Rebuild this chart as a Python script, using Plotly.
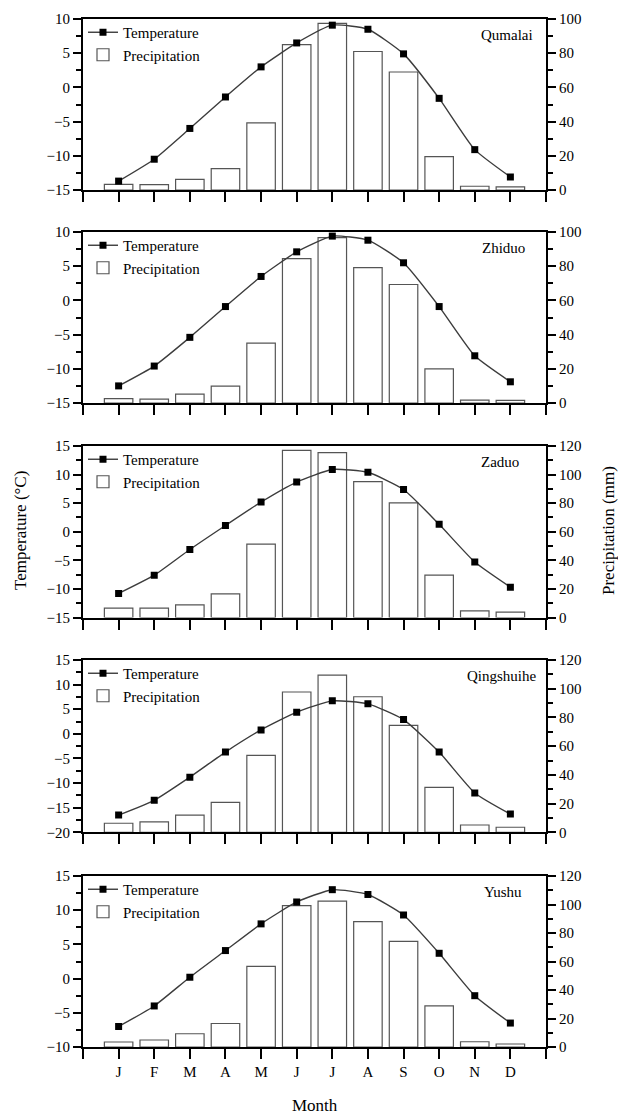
import plotly.graph_objects as go

# ---------------- data ----------------
months = ["J", "F", "M", "A", "M", "J", "J", "A", "S", "O", "N", "D"]
stations = ["Qumalai", "Zhiduo", "Zaduo", "Qingshuihe", "Yushu"]

temp_qumalai = [-13.7, -10.5, -6.0, -1.4, 3.0, 6.5, 9.1, 8.5, 4.9, -1.6, -9.1, -13.1]
precip_qumalai = [3.3, 3.2, 6.2, 12.5, 39.2, 85.0, 97.5, 81.0, 69.0, 19.5, 2.2, 1.8]

temp_zhiduo = [-12.5, -9.6, -5.4, -0.9, 3.5, 7.1, 9.4, 8.8, 5.5, -0.9, -8.1, -11.9]
precip_zhiduo = [2.5, 2.3, 5.2, 9.9, 35.0, 84.4, 96.7, 79.2, 69.3, 20.0, 1.7, 1.5]

temp_zaduo = [-10.8, -7.6, -3.1, 1.1, 5.2, 8.7, 10.9, 10.4, 7.4, 1.3, -5.3, -9.7]
precip_zaduo = [6.5, 6.5, 8.8, 16.5, 51.4, 117.0, 115.4, 95.1, 80.2, 29.7, 4.6, 3.7]

temp_qingshuihe = [-16.5, -13.5, -8.8, -3.7, 0.8, 4.4, 6.7, 6.1, 2.9, -3.7, -12.0, -16.3]
precip_qingshuihe = [6.3, 7.2, 12.0, 20.9, 53.6, 97.7, 109.5, 94.4, 74.5, 31.3, 5.1, 3.5]

temp_yushu = [-7.0, -4.0, 0.2, 4.1, 8.0, 11.2, 13.0, 12.3, 9.3, 3.7, -2.5, -6.5]
precip_yushu = [3.5, 4.9, 9.3, 16.5, 56.6, 99.2, 102.4, 88.0, 74.1, 28.9, 3.7, 2.1]

temps = [temp_qumalai, temp_zhiduo, temp_zaduo, temp_qingshuihe, temp_yushu]
precips = [precip_qumalai, precip_zhiduo, precip_zaduo, precip_qingshuihe, precip_yushu]

temp_ranges = [[-15, 10], [-15, 10], [-15, 15], [-20, 15], [-10, 15]]
precip_ranges = [[0, 100], [0, 100], [0, 120], [0, 120], [0, 120]]

# ---------------- layout geometry ----------------
W, H = 618, 1117
ML, MR, MT, MB = 83, 72, 19, 70
plot_h = H - MT - MB
panel_px = [(19, 190), (232, 403), (446, 617.5), (660, 832.3), (876, 1047)]
label_x = [0.976, 0.958, 0.946, 0.985, 0.952]

def to_paper(py):
    return (H - MB - py) / plot_h

FONT = "Liberation Serif, Times New Roman, serif"
xpos = list(range(1, 13))

fig = go.Figure()
layout = dict(
    width=W, height=H,
    margin=dict(l=ML, r=MR, t=MT, b=MB),
    paper_bgcolor="white", plot_bgcolor="white",
    font=dict(family=FONT, size=15, color="black"),
    showlegend=True,
    bargap=0.2,
)
annotations = []

for i in range(5):
    xa = "x" if i == 0 else f"x{i+1}"
    ya_p = f"y{2*i+1}" if i > 0 else "y"
    ya_t = f"y{2*i+2}"
    xkey = "xaxis" if i == 0 else f"xaxis{i+1}"
    ykey_p = "yaxis" if i == 0 else f"yaxis{2*i+1}"
    ykey_t = f"yaxis{2*i+2}"
    lg = "legend" if i == 0 else f"legend{i+1}"
    top, bot = panel_px[i]
    dom = [to_paper(bot), to_paper(top)]

    fig.add_trace(go.Bar(
        x=xpos, y=precips[i], xaxis=xa, yaxis=ya_p,
        name="Precipitation", legend=lg, legendrank=2,
        width=0.8,
        marker=dict(color="white", line=dict(color="#555555", width=1.2)),
    ))
    fig.add_trace(go.Scatter(
        x=xpos, y=temps[i], xaxis=xa, yaxis=ya_t,
        name="Temperature", legend=lg, legendrank=1,
        mode="lines+markers",
        line=dict(color="#3c3c3c", width=1.4, shape="spline", smoothing=0.5),
        marker=dict(symbol="square", size=7, color="black"),
    ))

    layout[xkey] = dict(
        domain=[0, 1], anchor=ya_p, range=[0, 13],
        tickmode="array", tickvals=list(range(0, 14)),
        ticktext=[""] + (months if i == 4 else [""] * 12) + [""],
        ticks="outside", ticklen=10, tickwidth=1.5, tickcolor="black",
        showline=True, linewidth=2, linecolor="black", mirror=True,
        showgrid=False, zeroline=False,
        tickfont=dict(size=15, family=FONT),
    )
    pr = precip_ranges[i]
    layout[ykey_p] = dict(
        domain=dom, anchor=xa, side="right", range=pr,
        tickmode="linear", tick0=0, dtick=20,
        ticks="outside", ticklen=8, tickwidth=1.5, tickcolor="black",
        minor=dict(ticks="outside", ticklen=5, dtick=10, tickwidth=1.5, tickcolor="black"),
        showline=True, linewidth=2, linecolor="black",
        showgrid=False, zeroline=False,
        tickfont=dict(size=15, family=FONT),
    )
    tr = temp_ranges[i]
    layout[ykey_t] = dict(
        domain=dom, anchor=xa, overlaying=ya_p, side="left", range=tr,
        tickmode="linear", tick0=0, dtick=5,
        ticks="outside", ticklen=8, tickwidth=1.5, tickcolor="black",
        minor=dict(ticks="outside", ticklen=5, dtick=2.5, tickwidth=1.5, tickcolor="black"),
        showline=True, linewidth=2, linecolor="black",
        showgrid=False, zeroline=False,
        tickfont=dict(size=15, family=FONT),
    )
    layout[lg] = dict(
        x=0.0, y=to_paper(top - 3), xref="paper", yref="paper",
        xanchor="left", yanchor="top",
        bgcolor="rgba(0,0,0,0)", borderwidth=0,
        font=dict(size=15, family=FONT, color="black"),
        itemwidth=30, tracegroupgap=0,
    )
    annotations.append(dict(
        text=stations[i], xref=f"{xa} domain", yref=f"{ya_p} domain",
        x=label_x[i], y=0.905, xanchor="right", yanchor="middle",
        showarrow=False, font=dict(size=15, family=FONT, color="black"),
    ))

annotations += [
    dict(text="Temperature (°C)", xref="paper", yref="paper",
         x=(20 - ML) / (W - ML - MR), y=to_paper(531), textangle=-90,
         xanchor="center", yanchor="middle", showarrow=False,
         font=dict(size=17, family=FONT, color="black")),
    dict(text="Precipitation (mm)", xref="paper", yref="paper",
         x=(608 - ML) / (W - ML - MR), y=to_paper(531), textangle=-90,
         xanchor="center", yanchor="middle", showarrow=False,
         font=dict(size=17, family=FONT, color="black")),
    dict(text="Month", xref="paper", yref="paper",
         x=0.5, y=to_paper(1105), xanchor="center", yanchor="middle",
         showarrow=False, font=dict(size=17, family=FONT, color="black")),
]
layout["annotations"] = annotations
fig.update_layout(**layout)
fig.write_html("out.html")
